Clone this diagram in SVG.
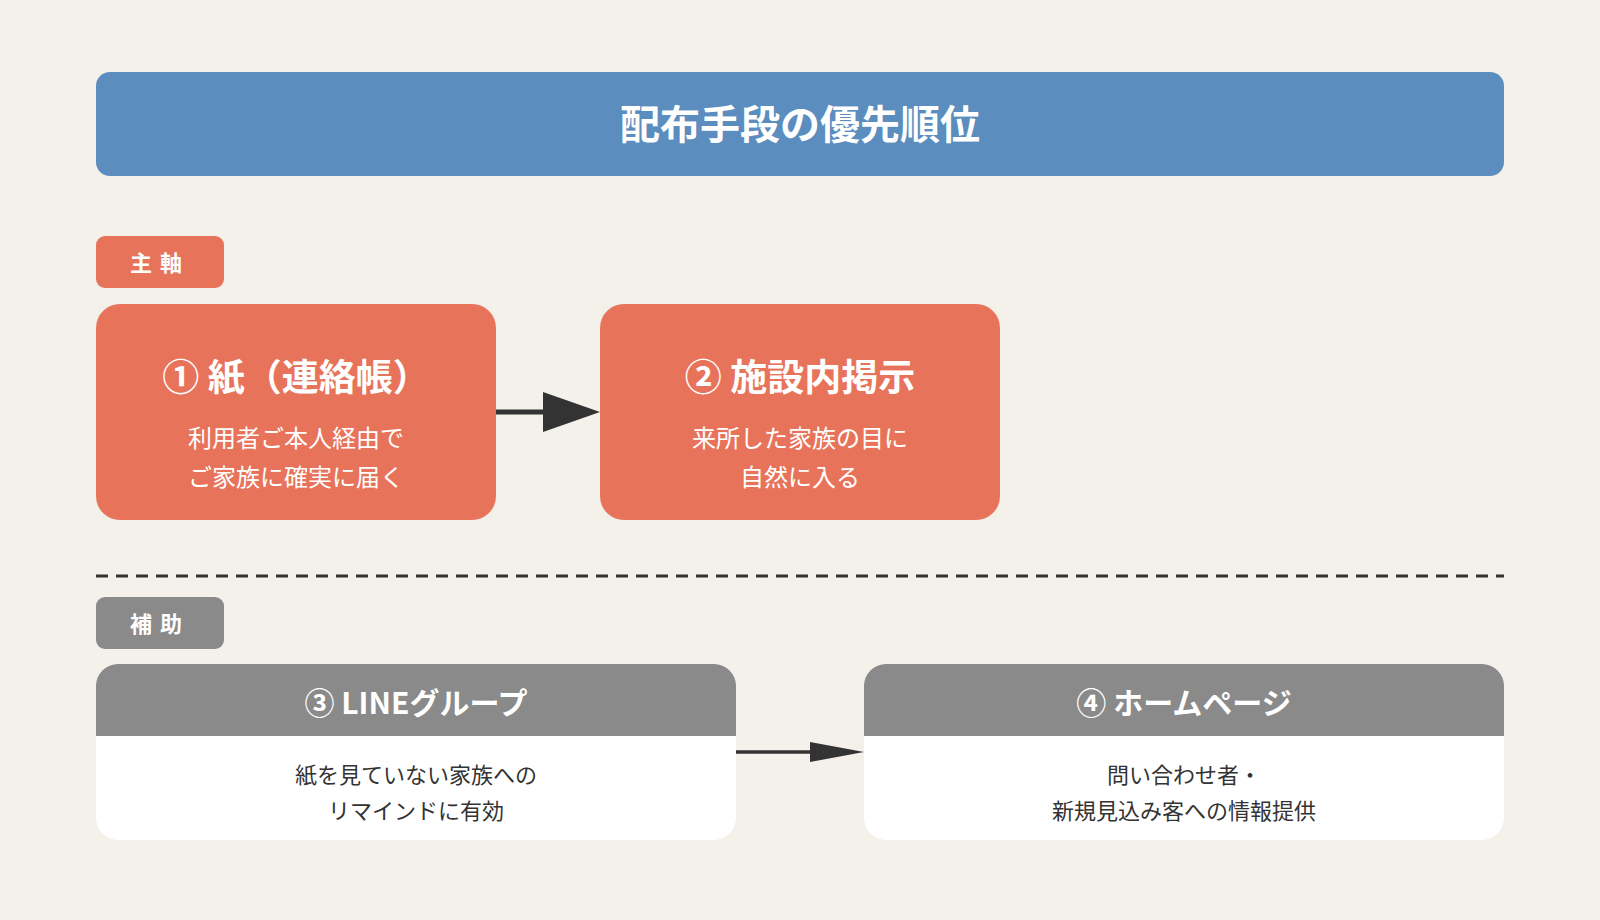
<svg xmlns="http://www.w3.org/2000/svg" width="1600" height="920" viewBox="0 0 1600 920">
<style>
text{font-family:"Noto Sans CJK JP","Noto Sans",sans-serif;text-anchor:middle}
.w{fill:#fff}
.t{font-weight:bold}
.d{fill:#333}
</style>
<defs>
<marker id="a1" markerWidth="10" markerHeight="8" refX="10" refY="4" orient="auto" markerUnits="userSpaceOnUse" viewBox="0 0 10 8"><path d="M0,0L10,4L0,8z" fill="#333"/></marker>
<clipPath id="c3"><rect x="96" y="664" width="640" height="176" rx="22"/></clipPath>
<clipPath id="c4"><rect x="864" y="664" width="640" height="176" rx="22"/></clipPath>
</defs>
<rect width="1600" height="920" fill="#F4F0EA"/>
<g id="title"><rect x="96" y="72" width="1408" height="104" rx="14" fill="#5B8DBE"/><text x="800" y="139" class="w t" font-size="40">配布手段の優先順位</text></g>
<g id="tag1"><rect x="96" y="236" width="128" height="52" rx="9" fill="#E8735B"/><text x="160" y="271" class="w t" font-size="22" letter-spacing="8">主軸</text></g>
<g id="n1"><rect x="96" y="304" width="400" height="216" rx="24" fill="#E8735B"/><text x="296" y="391" class="w t" font-size="37">① 紙（連絡帳）</text><text x="296" y="447" class="w" font-size="24">利用者ご本人経由で</text><text x="296" y="486" class="w" font-size="24">ご家族に確実に届く</text></g>
<g id="n2"><rect x="600" y="304" width="400" height="216" rx="24" fill="#E8735B"/><text x="800" y="391" class="w t" font-size="37">② 施設内掲示</text><text x="800" y="447" class="w" font-size="24">来所した家族の目に</text><text x="800" y="486" class="w" font-size="24">自然に入る</text></g>
<line x1="96" y1="576" x2="1504" y2="576" stroke="#333" stroke-width="3" stroke-dasharray="12 8"/>
<g id="tag2"><rect x="96" y="597" width="128" height="52" rx="9" fill="#8A8A8A"/><text x="160" y="632" class="w t" font-size="22" letter-spacing="8">補助</text></g>
<g id="n3"><g clip-path="url(#c3)"><rect x="96" y="664" width="640" height="176" fill="#fff"/><rect x="96" y="664" width="640" height="72" fill="#8A8A8A"/></g><text x="416" y="714" class="w t" font-size="30">③ LINEグループ</text><text x="416" y="783" class="d" font-size="22">紙を見ていない家族への</text><text x="416" y="819" class="d" font-size="22">リマインドに有効</text></g>
<g id="n4"><g clip-path="url(#c4)"><rect x="864" y="664" width="640" height="176" fill="#fff"/><rect x="864" y="664" width="640" height="72" fill="#8A8A8A"/></g><text x="1184" y="714" class="w t" font-size="30">④ ホームページ</text><text x="1184" y="783" class="d" font-size="22">問い合わせ者・</text><text x="1184" y="819" class="d" font-size="22">新規見込み客への情報提供</text></g>
<g id="connectors">
<line x1="496" y1="412" x2="545" y2="412" stroke="#333" stroke-width="5"/><path d="M543,392L600,412L543,432z" fill="#333"/>
<line x1="736" y1="752" x2="815" y2="752" stroke="#333" stroke-width="3.5"/><path d="M810,742L864,752L810,762z" fill="#333"/>
</g>
</svg>
